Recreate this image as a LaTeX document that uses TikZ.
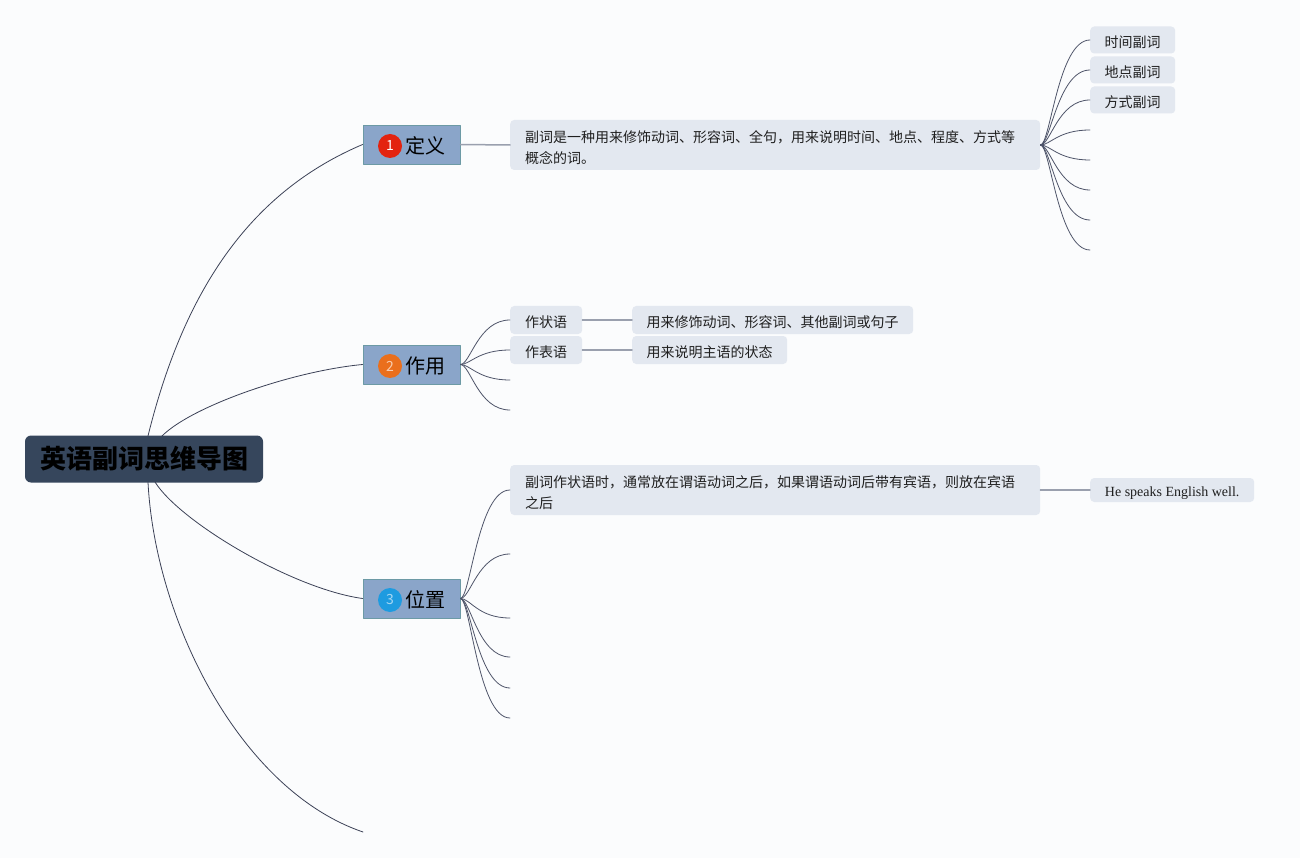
\documentclass[tikz,border=0pt]{standalone}
\usepackage{fontspec}
\setmainfont{Noto Sans CJK SC}
\newfontfamily\serifen{Liberation Serif}
\definecolor{bgc}{HTML}{FBFCFD}
\definecolor{rootc}{HTML}{36465C}
\definecolor{catc}{HTML}{8AA5C9}
\definecolor{catb}{HTML}{6C9AA5}
\definecolor{leafc}{HTML}{E3E8F0}
\definecolor{trunkc}{HTML}{3B4156}
\definecolor{fanc}{HTML}{4E5469}
\definecolor{linkc}{HTML}{9AA0AE}
\definecolor{textc}{HTML}{1F1F1F}
\definecolor{bred}{HTML}{E3230F}
\definecolor{borg}{HTML}{EA6F1C}
\definecolor{bblu}{HTML}{1E9BE0}
\newcommand{\firstline}{\rule{0pt}{18pt}}
\begin{document}
\begin{tikzpicture}[x=1pt,y=-1pt,line join=round,line cap=round,
  rootbox/.style={fill=rootc,rounded corners=6pt,minimum width=238pt,minimum height=47pt,inner sep=0pt,font=\fontsize{26}{30}\selectfont\bfseries,text=black},
  catbox/.style={fill=catc,draw=catb,line width=0.8pt,minimum width=97pt,minimum height=39pt,inner sep=0pt},
  badge/.style={circle,minimum size=24pt,inner sep=0pt,font=\fontsize{14}{14}\selectfont},
  catlabel/.style={anchor=west,inner sep=0pt,font=\fontsize{20}{20}\selectfont,text=black},
  leaf/.style={fill=leafc,rounded corners=4pt,inner sep=0pt,anchor=west,text height=15pt,text depth=0.5pt,font=\fontsize{14}{14}\selectfont,text=textc},
  longleaf/.style={fill=leafc,rounded corners=4pt,inner xsep=15pt,inner ysep=0pt,text width=500pt,minimum height=50pt,align=left,anchor=west,font=\fontsize{14}{21}\selectfont,text=textc},
  trunk/.style={draw=trunkc,line width=0.8pt},
  fan/.style={draw=fanc,line width=0.8pt},
  link/.style={draw=linkc,line width=1.5pt},
]
\useasboundingbox (0,0) rectangle (1300,858);
\fill[bgc] (0,0) rectangle (1300,858);

% root
\node[rootbox] (root) at (144,459) {英语副词思维导图};
\coordinate (rt1) at (148,436);
\coordinate (rt2) at (162,436);
\coordinate (rb1) at (155,482);
\coordinate (rb2) at (148,482);

% categories
\node[catbox] (c1) at (411.5,144.5) {};
\node[badge,fill=bred,text=white] (b1) at (390,146) {1};
\node[catlabel] (t1) at (405,146) {定义};
\node[catbox] (c2) at (411.5,364.5) {};
\node[badge,fill=borg,text=borg!35!white] (b2) at (390,366) {2};
\node[catlabel] (t2) at (405,366) {作用};
\node[catbox] (c3) at (411.5,598.5) {};
\node[badge,fill=bblu,text=bblu!40!white] (b3) at (390,600) {3};
\node[catlabel] (t3) at (405,600) {位置};
\coordinate (c4) at (363,832);

% trunk curves
\draw[trunk] (rt1) .. controls (185,286) and (253,191) .. (c1.west);
\draw[trunk] (rt2) .. controls (192,406) and (293,371) .. (c2.west);
\draw[trunk] (rb1) .. controls (180,522) and (293,589) .. (c3.west);
\draw[trunk] (rb2) .. controls (155,620) and (240,790) .. (c4);

% definition branch
\node[longleaf] (d1) at (510,145) {\firstline 副词是一种用来修饰动词、形容词、全句，用来说明时间、地点、程度、方式等\\概念的词。};
\draw[link] (c1.east) -- (d1.west);
\node[leaf,minimum width=85pt,minimum height=27pt] (k1) at (1090,40) {时间副词};
\node[leaf,minimum width=85pt,minimum height=27pt] (k2) at (1090,70) {地点副词};
\node[leaf,minimum width=85pt,minimum height=27pt] (k3) at (1090,100) {方式副词};
\coordinate (k4) at (1090,130);
\coordinate (k5) at (1090,160);
\coordinate (k6) at (1090,190);
\coordinate (k7) at (1090,220);
\coordinate (k8) at (1090,250);
\foreach \k in {k1,k2,k3} \draw[fan] (d1.east) .. controls +(10,0) and +(-32,0) .. (\k.west);
\foreach \k in {k4,k5,k6,k7,k8} \draw[fan] (d1.east) .. controls +(10,0) and +(-32,0) .. (\k);

% function branch
\node[leaf,minimum width=72pt,minimum height=28pt] (z1) at (510,320) {作状语};
\node[leaf,minimum width=72pt,minimum height=28pt] (z2) at (510,350) {作表语};
\coordinate (z3) at (510,380);
\coordinate (z4) at (510,410);
\foreach \k in {z1,z2} \draw[fan] (c2.east) .. controls +(10,0) and +(-32,0) .. (\k.west);
\foreach \k in {z3,z4} \draw[fan] (c2.east) .. controls +(10,0) and +(-32,0) .. (\k);
\node[leaf,minimum width=281pt,minimum height=28pt] (y1) at (632,320) {用来修饰动词、形容词、其他副词或句子};
\node[leaf,minimum width=155pt,minimum height=28pt] (y2) at (632,350) {用来说明主语的状态};
\draw[link] (z1.east) -- (y1.west);
\draw[link] (z2.east) -- (y2.west);

% position branch
\node[longleaf] (p1) at (510,490) {\firstline 副词作状语时，通常放在谓语动词之后，如果谓语动词后带有宾语，则放在宾语\\之后};
\coordinate (p2) at (510,554);
\coordinate (p3) at (510,618);
\coordinate (p4) at (510,657);
\coordinate (p5) at (510,688);
\coordinate (p6) at (510,718);
\draw[fan] (c3.east) .. controls +(10,0) and +(-32,0) .. (p1.west);
\foreach \k in {p2,p3,p4,p5,p6} \draw[fan] (c3.east) .. controls +(10,0) and +(-32,0) .. (\k);
\node[leaf,minimum width=164pt,minimum height=24pt,text height=13pt,text depth=0.8pt,font=\serifen\fontsize{14}{14}\selectfont] (e1) at (1090,490) {He speaks English well.};
\draw[link] (p1.east) -- (e1.west);
\end{tikzpicture}
\end{document}
